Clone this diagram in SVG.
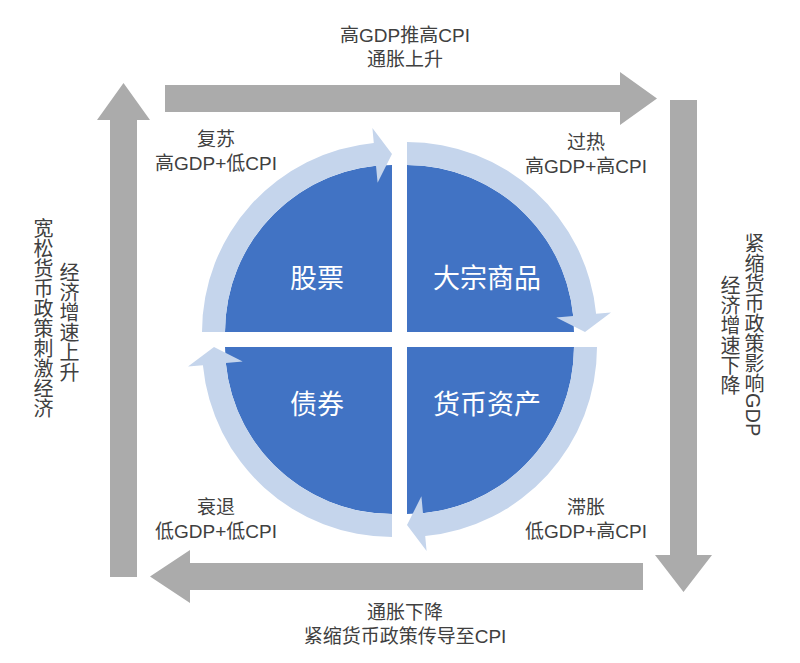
<svg xmlns="http://www.w3.org/2000/svg" xmlns:xlink="http://www.w3.org/1999/xlink" width="800" height="663" viewBox="0 0 800 663">
<style>
text{font-family:"Liberation Sans","Noto Sans CJK SC",sans-serif;fill:#404040;font-size:19px;text-anchor:middle}
.q{fill:#fff;font-size:27px;font-family:"Noto Sans CJK SC",sans-serif}
.v{writing-mode:vertical-rl;text-anchor:start;font-size:20px}
.g{fill:#ababab}
.dark{fill:#4173c4}
.ring{fill:#c5d5ec}
</style>
<defs>
<path id="pie" d="M0,0 L-167,0 A167,167 0 0 1 0,-167 Z"/>
<path id="arc" d="M-190,0 A190,190 0 0 1 -18.2,-189.1 L-19.6,-204 L0,-178 L-14.4,-149.3 L-16,-166.2 A167,167 0 0 0 -167,0 Z"/>
</defs>
<rect width="800" height="663" fill="#fff"/>
<g id="connectors">
<path class="g" d="M165,85 H620 V72 L657,98.5 L620,125 V112 H165 Z"/>
<path class="g" d="M670,100 H697 V555 H712 L683.5,592 L655,555 H670 Z"/>
<path class="g" d="M643,563 V590 H190 V603 L150,576.5 L190,550 V563 Z"/>
<path class="g" d="M110,577 H137 V120 H150 L123.5,83 L97,120 H110 Z"/>
</g>
<g id="cycle">
<use xlink:href="#pie" class="dark" transform="translate(392,332)"/>
<use xlink:href="#pie" class="dark" transform="translate(407,332) rotate(90)"/>
<use xlink:href="#pie" class="dark" transform="translate(407,347) rotate(180)"/>
<use xlink:href="#pie" class="dark" transform="translate(392,347) rotate(270)"/>
<use xlink:href="#arc" class="ring" transform="translate(392,332)"/>
<use xlink:href="#arc" class="ring" transform="translate(407,332) rotate(90)"/>
<use xlink:href="#arc" class="ring" transform="translate(407,347) rotate(180)"/>
<use xlink:href="#arc" class="ring" transform="translate(392,347) rotate(270)"/>
</g>
<g id="n-stock"><text class="q" x="317" y="288">股票</text></g>
<g id="n-commodity"><text class="q" x="487" y="288">大宗商品</text></g>
<g id="n-bond"><text class="q" x="317" y="414">债券</text></g>
<g id="n-cash"><text class="q" x="487" y="414">货币资产</text></g>
<g id="l-recovery"><text x="216" y="146">复苏</text><text x="216" y="170">高GDP+低CPI</text></g>
<g id="l-overheat"><text x="586" y="149">过热</text><text x="586" y="173">高GDP+高CPI</text></g>
<g id="l-recession"><text x="216" y="514">衰退</text><text x="216" y="538">低GDP+低CPI</text></g>
<g id="l-stag"><text x="586" y="514">滞胀</text><text x="586" y="538">低GDP+高CPI</text></g>
<g id="l-top"><text x="405" y="42">高GDP推高CPI</text><text x="405" y="66">通胀上升</text></g>
<g id="l-bottom"><text x="405" y="619">通胀下降</text><text x="405" y="643">紧缩货币政策传导至CPI</text></g>
<g id="l-right"><text class="v" x="753" y="233">紧缩货币政策影响GDP</text><text class="v" x="729" y="275">经济增速下降</text></g>
<g id="l-left"><text class="v" x="42" y="218">宽松货币政策刺激经济</text><text class="v" x="68" y="262">经济增速上升</text></g>
</svg>
